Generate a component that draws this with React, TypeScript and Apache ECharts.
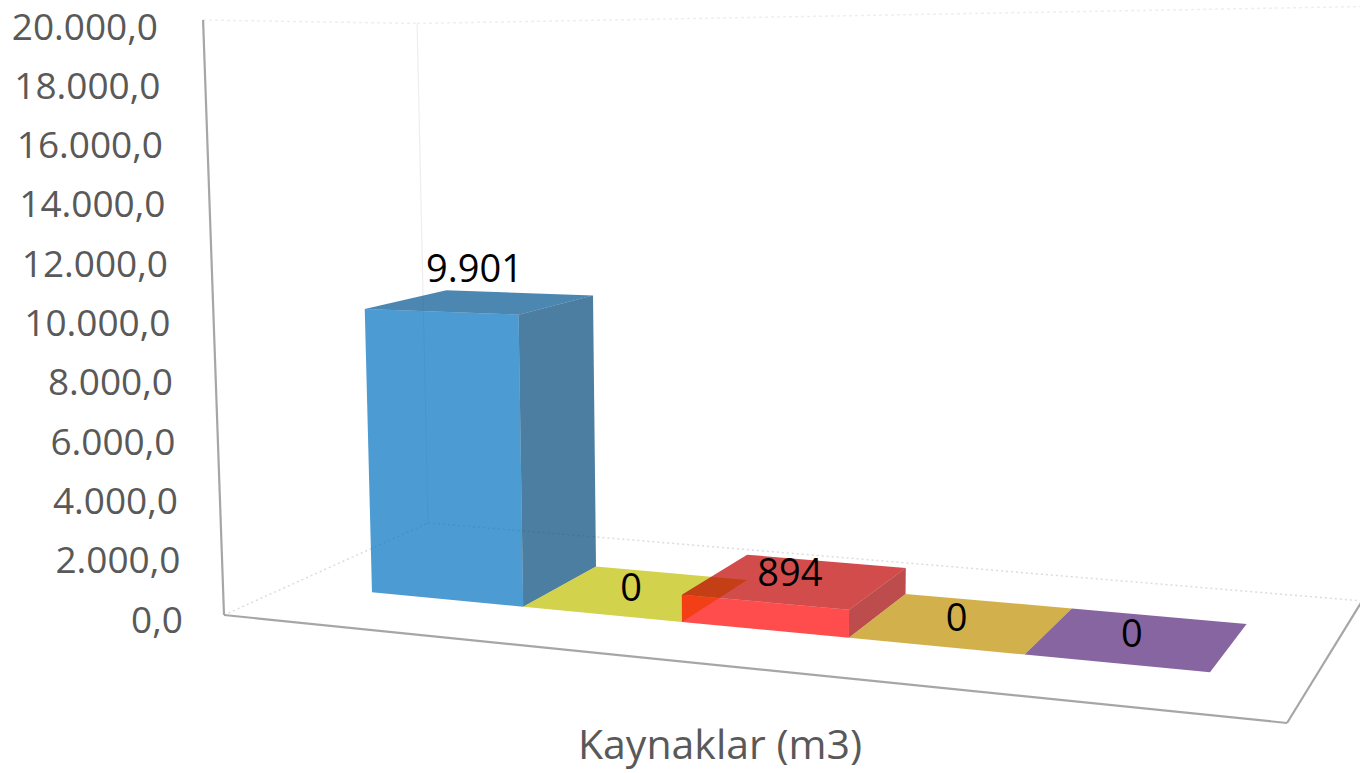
import React, { useEffect, useRef } from "react";
import * as echarts from "echarts";

// ---------- data ----------
const categories = ["Kaynaklar (m3)"];
const seriesNames = ["Kaynak 1", "Kaynak 2", "Kaynak 3", "Kaynak 4", "Kaynak 5"];
const seriesValues = [9901, 0, 894, 0, 0];
const seriesColors = ["#0070C0", "#FFFF00", "#FF0000", "#FFC000", "#7030A0"];
const yAxisMin = 0;
const yAxisMax = 20000;
const yAxisStep = 2000;

// ---------- 3D view (layout / styling constants) ----------
const FLOOR = { a: 870.1, b: 268.3, c: 224, d: -0.4, e: -13.5, f: 615, g: -0.1499, h: 0.15015 };
const VP_X = 765;
const TILT = 6.5e-5;
const DEPTH_EXP = 1.25;
const AXIS_TO_FRAME = 595 / 593;
const BAR_SPAN = [0.091, 0.913];
const BAR_DEPTH = [0.3, 0.71];
const FACE_ALPHA = 0.7;
const TOP_SHADE = 0.75;
const SIDE_SHADE = 0.63;
const FONT = "'Open Sans', 'DejaVu Sans', sans-serif";

function project(u: number, v: number, hgt: number): number[] {
  const w = 1 + FLOOR.g * u + FLOOR.h * v;
  const x = (FLOOR.a * u + FLOOR.b * v + FLOOR.c) / w;
  const y = (FLOOR.d * u + FLOOR.e * v + FLOOR.f) / w;
  const hs = hgt / Math.pow(w, DEPTH_EXP);
  return [x + (x - VP_X) * hs * TILT, y - hs];
}

function shade(hex: string, k: number): string {
  const n = parseInt(hex.slice(1), 16);
  const r = Math.round(((n >> 16) & 255) * k);
  const g = Math.round(((n >> 8) & 255) * k);
  const b = Math.round((n & 255) * k);
  return `rgb(${r},${g},${b})`;
}

function thousands(n: number): string {
  const s = Math.round(Math.abs(n)).toString();
  const out = s.replace(/\B(?=(\d{3})+(?!\d))/g, ".");
  return (n < 0 ? "-" : "") + out;
}

function makeBarRender(i: number) {
  return (params: any, api: any) => {
    const cat = api.value(0);
    const val = api.value(1);
    const [cx, y0] = api.coord([cat, 0]);
    const y1 = api.coord([cat, val])[1];
    const band = api.size([1, 0])[0];
    const left = cx - band / 2;
    const n = seriesValues.length;
    const step = (BAR_SPAN[1] - BAR_SPAN[0]) / n;
    const px0 = left + band * (BAR_SPAN[0] + i * step);
    const px1 = px0 + band * step;
    const u0 = (px0 - left) / band;
    const u1 = (px1 - left) / band;
    const [v0, v1] = BAR_DEPTH;
    const hgt = (y0 - y1) * AXIS_TO_FRAME;
    const color = seriesColors[i];
    const f0 = project(u0, v0, 0), f1 = project(u1, v0, 0), f2 = project(u1, v1, 0);
    const t0 = project(u0, v0, hgt), t1 = project(u1, v0, hgt), t2 = project(u1, v1, hgt), t3 = project(u0, v1, hgt);
    const children: any[] = [];
    if (hgt > 0.5) {
      children.push({ type: "polygon", shape: { points: [f0, f1, t1, t0] }, style: { fill: shade(color, 1), opacity: FACE_ALPHA } });
      children.push({ type: "polygon", shape: { points: [f1, f2, t2, t1] }, style: { fill: shade(color, SIDE_SHADE), opacity: FACE_ALPHA } });
    }
    children.push({ type: "polygon", shape: { points: [t0, t1, t2, t3] }, style: { fill: shade(color, TOP_SHADE), opacity: FACE_ALPHA } });
    const lp = project((u0 + u1) / 2, (v0 + v1) / 2, hgt * 1.1);
    children.push({
      type: "text",
      x: lp[0] - 6,
      y: lp[1] - 7,
      style: {
        text: thousands(val),
        fill: "#000000",
        fontSize: 38,
        fontFamily: FONT,
        align: "center",
        verticalAlign: "middle",
      },
    });
    return { type: "group", children };
  };
}

function frameRender(params: any, api: any) {
  const y0 = api.coord([0, yAxisMin])[1];
  const yT = api.coord([0, api.value(1)])[1];
  const H = (y0 - yT) * AXIS_TO_FRAME;
  const line = (p: number[], q: number[], stroke: string, lw: number, dash?: number[]) => ({
    type: "line",
    shape: { x1: p[0], y1: p[1], x2: q[0], y2: q[1] },
    style: { stroke, lineWidth: lw, lineDash: dash || null },
  });
  const faint = "#dcdcdc";
  return {
    type: "group",
    children: [
      line(project(0, 1, H), project(1, 1, H), "#eeeeee", 1.5, [3, 3]),
      line(project(0, 0, H), project(0, 1, H), "#eeeeee", 1.5, [3, 3]),
      line(project(0, 1, 0), project(0, 1, H), "#eeeeee", 1.2),
      line(project(0, 0, 0), project(0, 1, 0), faint, 1.5, [2, 3]),
      line(project(0, 1, 0), project(1, 1, 0), faint, 1.5, [2, 3]),
      line(project(0, 0, 0), project(0, 0, H), "#a6a6a6", 2.2),
      line(project(0, 0, 0), project(1, 0, 0), "#a6a6a6", 2.2),
      line(project(1, 0, 0), project(1, 1, 0), "#a6a6a6", 2.2),
    ],
  };
}

export default function App() {
  const ref = useRef<HTMLDivElement>(null);
  useEffect(() => {
    if (!ref.current) return;
    const chart = echarts.init(ref.current, null, { renderer: "svg" });
    const nSteps = Math.round((yAxisMax - yAxisMin) / yAxisStep);
    const rich: any = {};
    for (let k = 0; k <= nSteps; k++) {
      rich["s" + k] = {
        fontSize: 37,
        fontFamily: FONT,
        color: "#595959",
        padding: [0, k * 2.5, 0, 0],
      };
    }
    const series: any[] = [
      {
        type: "custom",
        name: "frame",
        coordinateSystem: "cartesian2d",
        data: [[0, yAxisMax]],
        encode: { x: 0, y: 1 },
        renderItem: frameRender,
        clip: false,
        silent: true,
        z: 1,
      },
    ];
    seriesValues.forEach((v, i) => {
      series.push({
        type: "custom",
        name: seriesNames[i],
        coordinateSystem: "cartesian2d",
        data: [[0, v]],
        encode: { x: 0, y: 1 },
        renderItem: makeBarRender(i),
        clip: false,
        silent: true,
        z: 2 + i,
      });
    });
    chart.setOption({
      animation: false,
      backgroundColor: "#ffffff",
      grid: { left: 190, right: 110, top: 25, bottom: 155 },
      xAxis: {
        type: "category",
        data: categories,
        axisLine: { show: false },
        axisTick: { show: false },
        splitLine: { show: false },
        axisLabel: { margin: 104, fontSize: 41, color: "#595959", fontFamily: FONT },
      },
      yAxis: {
        type: "value",
        min: yAxisMin,
        max: yAxisMax,
        interval: yAxisStep,
        axisLine: { show: false },
        axisTick: { show: false },
        splitLine: { show: false },
        axisLabel: {
          margin: 7,
          fontSize: 37,
          fontFamily: FONT,
          color: "#595959",
          formatter: (v: number) => `{s${Math.round((v - yAxisMin) / yAxisStep)}|${thousands(v)},0}`,
          rich,
        },
      },
      series,
    });
    return () => chart.dispose();
  }, []);
  return <div ref={ref} style={{ position: "fixed", left: 0, top: 0, width: 1360, height: 773 }} />;
}
